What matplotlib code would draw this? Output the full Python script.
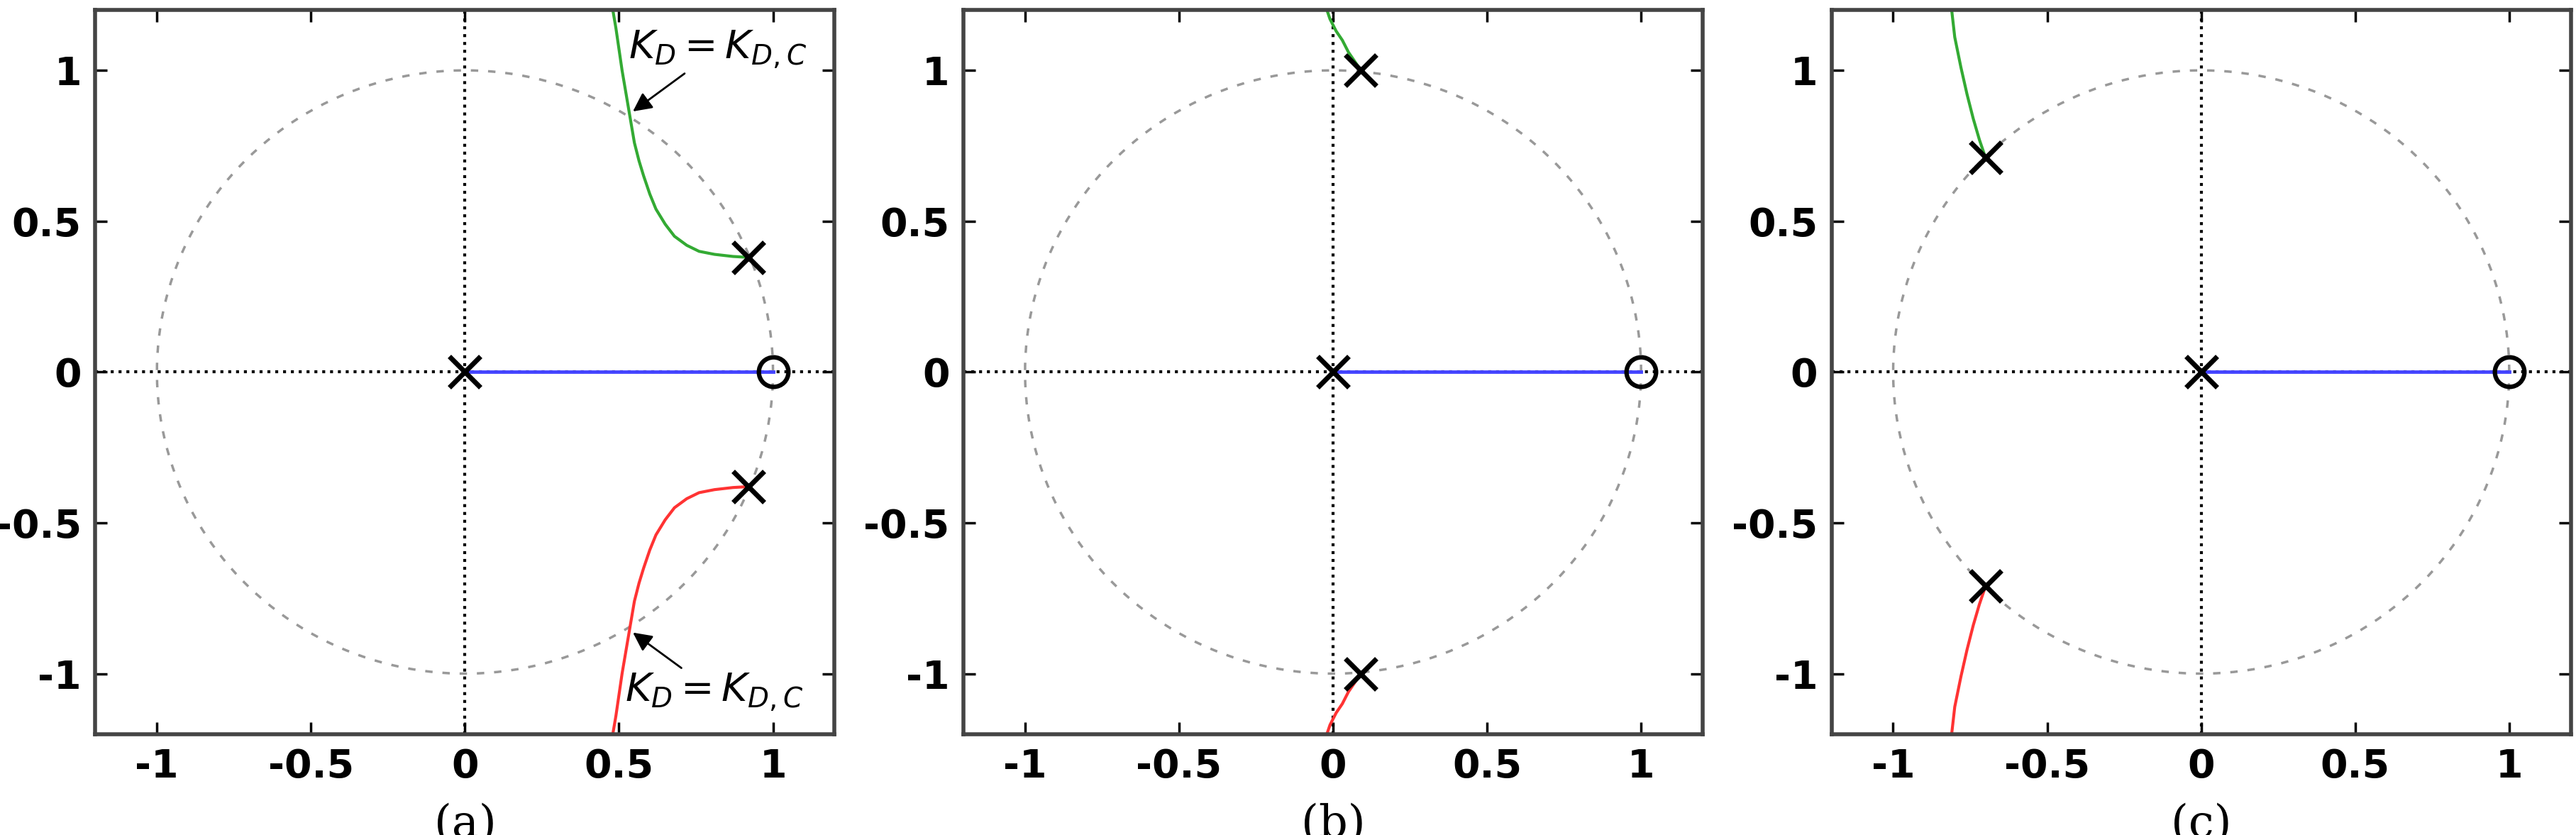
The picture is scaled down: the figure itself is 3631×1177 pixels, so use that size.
import numpy as np
import matplotlib.pyplot as plt

# pole / zero locations and root-locus branches
panels = ["(a)", "(b)", "(c)"]
poles = [
    [(0.92, 0.38), (0.92, -0.38), (0.0, 0.0)],
    [(0.09, 1.0), (0.09, -1.0), (0.0, 0.0)],
    [(-0.70, 0.71), (-0.70, -0.71), (0.0, 0.0)],
]
zero = (1.0, 0.0)
green_x = [
    [0.92, 0.87, 0.81, 0.76, 0.72, 0.68, 0.65, 0.62, 0.60, 0.58, 0.565,
     0.55, 0.54, 0.53, 0.52, 0.51, 0.50, 0.49, 0.48],
    [0.09, 0.07, 0.05, 0.03, 0.01, -0.01, -0.02],
    [-0.70, -0.72, -0.74, -0.76, -0.78, -0.80, -0.81],
]
green_y = [
    [0.38, 0.383, 0.39, 0.40, 0.42, 0.45, 0.49, 0.54, 0.59, 0.65, 0.70,
     0.76, 0.82, 0.88, 0.94, 1.00, 1.07, 1.14, 1.20],
    [1.00, 1.03, 1.06, 1.10, 1.13, 1.17, 1.20],
    [0.71, 0.77, 0.84, 0.92, 1.01, 1.11, 1.20],
]
label_a = r"$K_D = K_{D,C}$"

fig = plt.figure(figsize=(36.31, 11.77), dpi=100)
lefts = [0.037, 0.374, 0.711]
t = np.linspace(0, 2 * np.pi, 400)

for i, name in enumerate(panels):
    ax = fig.add_axes([lefts[i], 0.121, 0.287, 0.867])
    ax.plot(np.cos(t), np.sin(t), '--', color='#999999', lw=2.5, dashes=(3, 4))
    ax.axhline(0, color='black', ls=':', lw=3)
    ax.axvline(0, color='black', ls=':', lw=3)
    ax.plot([0, 1], [0, 0], color='#4444ff', lw=3.5)
    ax.plot(green_x[i], green_y[i], color='#33aa33', lw=3)
    ax.plot(green_x[i], [-y for y in green_y[i]], color='#ff3333', lw=3)
    for px, py in poles[i]:
        ax.plot(px, py, 'x', color='black', ms=32, mew=5)
    ax.plot(*zero, 'o', mfc='none', mec='black', ms=30, mew=4.5)
    ax.set_xlim(-1.2, 1.2)
    ax.set_ylim(-1.2, 1.2)
    ax.set_xticks([-1, -0.5, 0, 0.5, 1])
    ax.set_yticks([-1, -0.5, 0, 0.5, 1])
    ax.set_xticklabels(['-1', '-0.5', '0', '0.5', '1'])
    ax.set_yticklabels(['-1', '-0.5', '0', '0.5', '1'])
    ax.tick_params(direction='in', top=True, right=True, length=12, width=2.5,
                   labelsize=40, pad=14)
    for lab in ax.get_xticklabels() + ax.get_yticklabels():
        lab.set_fontweight('bold')
    for s in ax.spines.values():
        s.set_linewidth(4)
        s.set_color('#444444')
    ax.text(0.5, -0.095, name, transform=ax.transAxes, ha='center', va='top',
            fontsize=46, family='DejaVu Serif')
    if i == 0:
        ax.annotate(label_a, xy=(0.54, 0.86), xytext=(0.53, 1.0),
                    fontsize=40, family='DejaVu Serif', va='bottom',
                    arrowprops=dict(arrowstyle='-|>', color='black', lw=2))
        ax.annotate(label_a, xy=(0.54, -0.86), xytext=(0.52, -1.13),
                    fontsize=40, family='DejaVu Serif', va='bottom',
                    arrowprops=dict(arrowstyle='-|>', color='black', lw=2))

fig.savefig('out.png')
